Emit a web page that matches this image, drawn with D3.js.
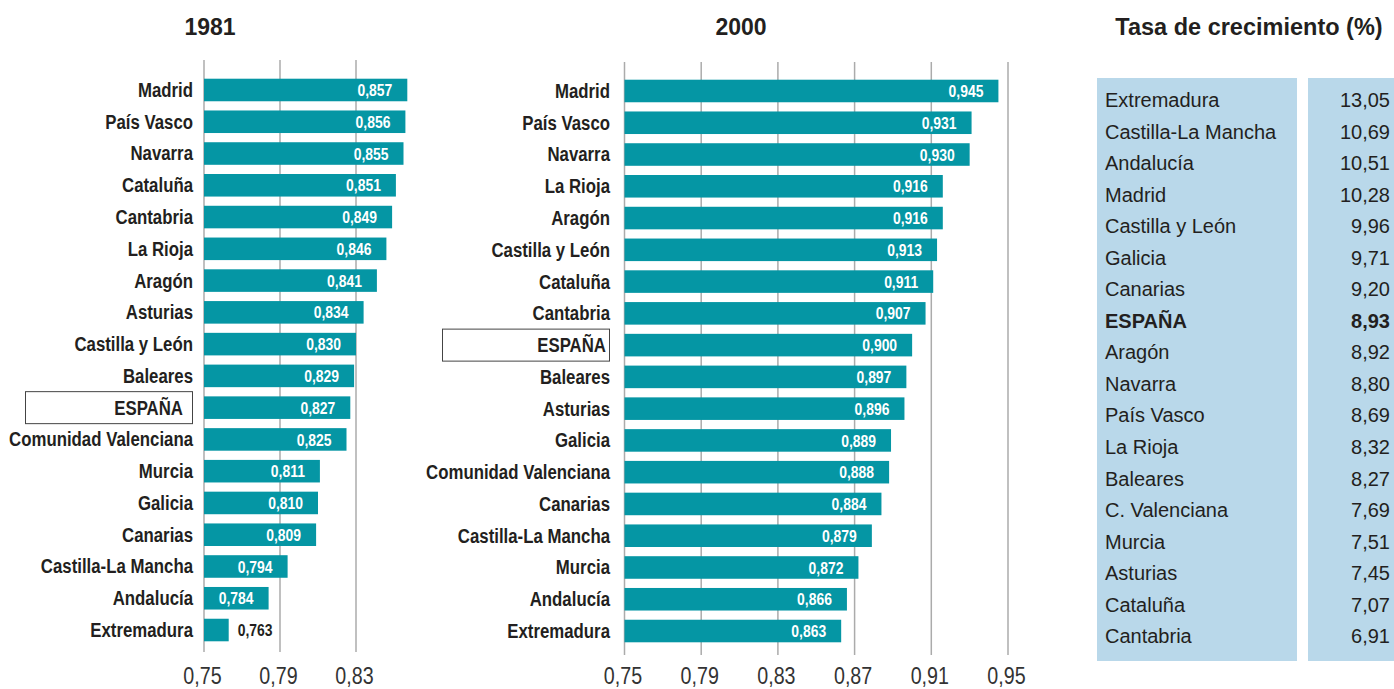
<!DOCTYPE html>
<html>
<head>
<meta charset="utf-8">
<script src="https://cdn.jsdelivr.net/npm/d3@7"></script>
<style>
  body { margin: 0; background: #fff; }
  svg { display: block; }
  text { font-family: "Liberation Sans", Arial, sans-serif; }
</style>
</head>
<body>
<div class="res"></div>
<script>
// data
const cats1981 = ['Madrid', 'País Vasco', 'Navarra', 'Cataluña', 'Cantabria', 'La Rioja', 'Aragón', 'Asturias',
  'Castilla y León', 'Baleares', 'ESPAÑA', 'Comunidad Valenciana', 'Murcia', 'Galicia', 'Canarias',
  'Castilla-La Mancha', 'Andalucía', 'Extremadura'];
const vals1981 = [0.857, 0.856, 0.855, 0.851, 0.849, 0.846, 0.841, 0.834, 0.830, 0.829, 0.827, 0.825,
  0.811, 0.810, 0.809, 0.794, 0.784, 0.763];

const cats2000 = ['Madrid', 'País Vasco', 'Navarra', 'La Rioja', 'Aragón', 'Castilla y León', 'Cataluña',
  'Cantabria', 'ESPAÑA', 'Baleares', 'Asturias', 'Galicia', 'Comunidad Valenciana', 'Canarias',
  'Castilla-La Mancha', 'Murcia', 'Andalucía', 'Extremadura'];
const vals2000 = [0.945, 0.931, 0.930, 0.916, 0.916, 0.913, 0.911, 0.907, 0.900, 0.897, 0.896, 0.889,
  0.888, 0.884, 0.879, 0.872, 0.866, 0.863];

const ticks1981 = [0.75, 0.79, 0.83];
const ticks2000 = [0.75, 0.79, 0.83, 0.87, 0.91, 0.95];

const growthNames = ['Extremadura', 'Castilla-La Mancha', 'Andalucía', 'Madrid', 'Castilla y León', 'Galicia',
  'Canarias', 'ESPAÑA', 'Aragón', 'Navarra', 'País Vasco', 'La Rioja', 'Baleares', 'C. Valenciana',
  'Murcia', 'Asturias', 'Cataluña', 'Cantabria'];
const growthVals = [13.05, 10.69, 10.51, 10.28, 9.96, 9.71, 9.20, 8.93, 8.92, 8.80, 8.69, 8.32, 8.27,
  7.69, 7.51, 7.45, 7.07, 6.91];

const W = 1394, H = 689;
const teal = '#0596a4';
const gridCol = '#ababab';
const txt = '#231f20';
const NARROW = 0.82; // squeeze Liberation Sans to look like Arial Narrow
const comma = d => d3.format('.3f')(d).replace('.', ',');

const svg = d3.select('div.res').append('svg')
  .attr('width', W).attr('height', H);

/**
 * one bar panel
 */
function panel(cfg) {
  const x = d3.scaleLinear().domain([0.75, cfg.max]).range([cfg.x0, cfg.x1]);
  const y = d3.scaleBand().domain(cfg.cats).range([cfg.y0, cfg.y1]).paddingInner(0.29).paddingOuter(0.145);
  const g = svg.append('g');
  const short = d => x(d) - x(0.75) < 50;

  // title
  g.append('text')
    .attr('x', cfg.titleX).attr('y', 35)
    .attr('text-anchor', 'middle')
    .style('font-weight', 'bold').style('font-size', '23px')
    .attr('fill', txt)
    .text(cfg.title);

  // grid
  g.selectAll('line.grid').data(cfg.ticks).enter().append('line')
    .attr('class', 'grid')
    .attr('x1', d => x(d)).attr('x2', d => x(d))
    .attr('y1', cfg.gy0).attr('y2', cfg.gy1)
    .attr('stroke', gridCol).attr('stroke-width', 1.5);

  // axis
  const axis = d3.axisBottom(x).tickValues(cfg.ticks).tickSize(0).tickPadding(0)
    .tickFormat(d => d3.format('.2f')(d).replace('.', ','));
  const ax = g.append('g').attr('transform', `translate(0, ${cfg.axisY})`).call(axis);
  ax.select('.domain').remove();
  ax.selectAll('text')
    .attr('y', 0).attr('dy', 0)
    .attr('transform', `translate(-2,0) scale(${NARROW},1)`)
    .style('font-family', 'Liberation Sans, Arial, sans-serif')
    .style('font-size', '24px')
    .attr('fill', '#333');

  // bars
  g.selectAll('rect.bar').data(cfg.vals).enter().append('rect')
    .attr('class', 'bar')
    .attr('x', x(0.75))
    .attr('y', (d, i) => y(cfg.cats[i]))
    .attr('width', d => x(d) - x(0.75))
    .attr('height', y.bandwidth())
    .attr('fill', teal);

  // value labels
  g.selectAll('text.val').data(cfg.vals).enter().append('text')
    .attr('class', 'val')
    .attr('transform', (d, i) => `translate(${short(d) ? x(d) + 9 : x(d) - 15}, ${y(cfg.cats[i]) + y.bandwidth() / 2}) scale(${NARROW},1)`)
    .attr('dy', '0.36em')
    .attr('text-anchor', d => short(d) ? 'start' : 'end')
    .style('font-weight', 'bold').style('font-size', '17px')
    .attr('fill', d => short(d) ? txt : '#fff')
    .text(comma);

  // category labels
  g.selectAll('text.cat').data(cfg.cats).enter().append('text')
    .attr('class', 'cat')
    .attr('transform', d => `translate(${d === 'ESPAÑA' ? cfg.labelX - cfg.espShift : cfg.labelX}, ${y(d) + y.bandwidth() / 2}) scale(${NARROW},1)`)
    .attr('dy', '0.34em')
    .attr('text-anchor', 'end')
    .style('font-weight', 'bold').style('font-size', '20.5px')
    .attr('fill', txt)
    .text(d => d);

  // box round ESPAÑA
  const ey = y('ESPAÑA') + y.bandwidth() / 2;
  g.append('rect')
    .attr('x', cfg.boxX0).attr('y', ey - 16)
    .attr('width', cfg.boxX1 - cfg.boxX0).attr('height', 32)
    .attr('fill', 'none').attr('stroke', '#444').attr('stroke-width', 1);
}

panel({
  title: '1981', titleX: 210, cats: cats1981, vals: vals1981, ticks: ticks1981,
  max: 0.83, x0: 204, x1: 356, y0: 74.1, y1: 645.9, gy0: 60, gy1: 652, axisY: 684,
  labelX: 193, espShift: 10, boxX0: 25.5, boxX1: 192.5
});

panel({
  title: '2000', titleX: 741, cats: cats2000, vals: vals2000, ticks: ticks2000,
  max: 0.95, x0: 624.5, x1: 1008, y0: 75.1, y1: 646.9, gy0: 62, gy1: 655, axisY: 684,
  labelX: 610, espShift: 4, boxX0: 442.5, boxX1: 609.5
});

/**
 * TABLE
 */
svg.append('text')
  .attr('x', 1249).attr('y', 35)
  .attr('text-anchor', 'middle')
  .style('font-weight', 'bold').style('font-size', '23.5px')
  .attr('fill', txt)
  .text('Tasa de crecimiento (%)');

const tableTop = 78, tableBot = 661;
svg.append('rect').attr('x', 1097).attr('y', tableTop).attr('width', 200).attr('height', tableBot - tableTop)
  .attr('fill', '#b9d8ea');
svg.append('rect').attr('x', 1308).attr('y', tableTop).attr('width', 86).attr('height', tableBot - tableTop)
  .attr('fill', '#b9d8ea');

const ty = d3.scalePoint().domain(growthNames).range([100, 636]);

svg.selectAll('text.gname').data(growthNames).enter().append('text')
  .attr('x', 1105)
  .attr('y', d => ty(d))
  .attr('dy', '0.36em')
  .style('font-size', '20px')
  .style('font-weight', d => d === 'ESPAÑA' ? 'bold' : 'normal')
  .attr('fill', txt)
  .text(d => d);

svg.selectAll('text.gval').data(growthVals).enter().append('text')
  .attr('x', 1390)
  .attr('y', (d, i) => ty(growthNames[i]))
  .attr('dy', '0.36em')
  .attr('text-anchor', 'end')
  .style('font-size', '20px')
  .style('font-weight', (d, i) => growthNames[i] === 'ESPAÑA' ? 'bold' : 'normal')
  .attr('fill', txt)
  .text(d => d3.format('.2f')(d).replace('.', ','));
</script>
</body>
</html>
